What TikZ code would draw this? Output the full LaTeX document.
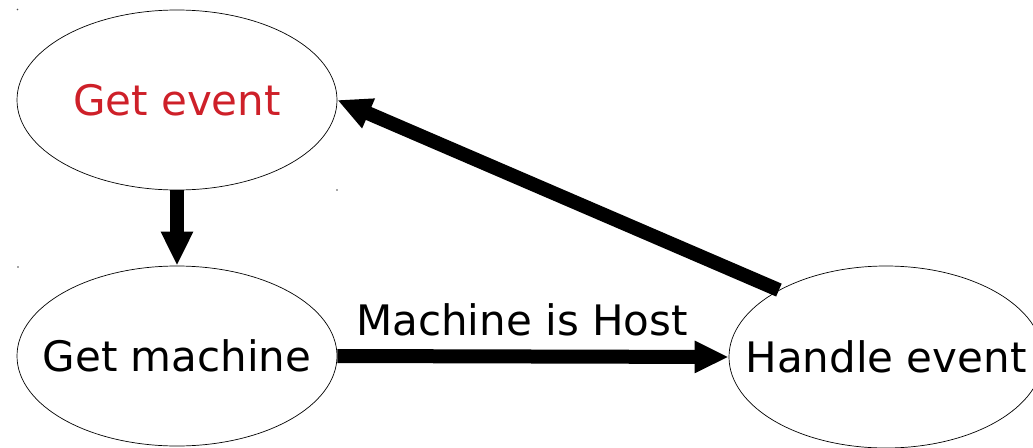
\documentclass[tikz,border=0pt]{standalone}
\usepackage{fontspec}
\setmainfont{DejaVu Sans}
\usetikzlibrary{arrows.meta,shapes.geometric}
\definecolor{evred}{RGB}{206,32,41}
\begin{document}
\begin{tikzpicture}[x=1pt,y=-1pt,
  state/.style={ellipse,draw=black,line width=0.7pt,inner sep=0pt},
  lbl/.style={font=\fontsize{42}{48}\selectfont},
  flow/.style={line width=14pt,-{Triangle[length=34pt,width=30pt]}}]
\useasboundingbox (0,0) rectangle (1033,447);
\node[state,minimum width=320pt,minimum height=180pt,label={[lbl,text=evred]center:Get event}] (ge) at (177,100) {};
\node[state,minimum width=320pt,minimum height=180pt,label={[lbl]center:Get machine}] (gm) at (177,356) {};
\node[state,minimum width=314pt,minimum height=182pt,label={[lbl]center:Handle event}] (he) at (886,357) {};
\draw[flow] (ge.south) -- (gm.north);
\draw[flow] (gm.east) -- node[lbl,midway,anchor=base,yshift=21pt,xshift=-11pt]{Machine is Host} (he.west);
\draw[flow] (he.148) -- (ge.east);
\fill[black!70] (17.5,9.5) circle (0.8pt);
\fill[black!70] (337,190) circle (0.8pt);
\fill[black!70] (18,267) circle (0.8pt);
\end{tikzpicture}
\end{document}
